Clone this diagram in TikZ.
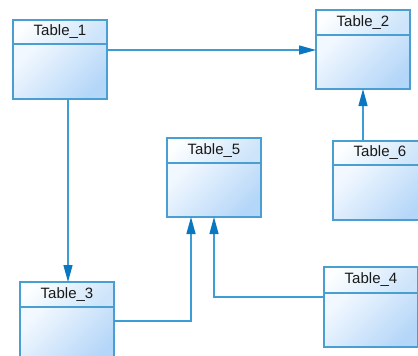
\documentclass[tikz,border=0pt]{standalone}
\usepackage{fontspec}
\setmainfont{Liberation Sans}
\usetikzlibrary{arrows.meta,calc}
\definecolor{bordc}{HTML}{4A9FD2}
\definecolor{linec}{HTML}{3C9DD6}
\definecolor{arrc}{HTML}{0A78C0}
\definecolor{bodyl}{HTML}{F2F8FF}
\definecolor{bodyd}{HTML}{B4D6F8}
\definecolor{headl}{HTML}{FCFEFF}
\definecolor{headd}{HTML}{CDE4FA}
\tikzset{
  hdr/.style={draw=bordc, line width=1.4bp, rectangle, inner sep=0pt, outer sep=0pt,
    minimum width=94bp, minimum height=25bp, anchor=north west,
    shading=axis, top color=headl, bottom color=headd, shading angle=45,
    font=\fontsize{15bp}{17bp}\selectfont, text=black!90},
  bdy/.style={draw=bordc, line width=1.4bp, rectangle, inner sep=0pt, outer sep=0pt,
    minimum width=94bp, minimum height=55bp, anchor=north,
    shading=axis, top color=bodyl, bottom color=bodyd, shading angle=45},
  conn/.style={draw=linec, line width=1.4bp,
    -{Triangle[length=17bp,width=9bp,fill=arrc,color=arrc]}},
}
\begin{document}
\begin{tikzpicture}[x=1bp,y=-1bp]
\useasboundingbox (0,0) rectangle (418,356);
\clip (0,0) rectangle (418,356);
% Table_1
\node[hdr, minimum height=24bp] (t1h) at (13,20) {Table\_1};
\node[bdy] (t1b) at (t1h.south) {};
% Table_2
\node[hdr] (t2h) at (316,10) {Table\_2};
\node[bdy, minimum height=54bp] (t2b) at (t2h.south) {};
% Table_5
\node[hdr] (t5h) at (167,138) {Table\_5};
\node[bdy, minimum height=54bp] (t5b) at (t5h.south) {};
% Table_6
\node[hdr, minimum height=24bp] (t6h) at (333,141) {Table\_6};
\node[bdy] (t6b) at (t6h.south) {};
% Table_3
\node[hdr] (t3h) at (20,282) {Table\_3};
\node[bdy] (t3b) at (t3h.south) {};
% Table_4
\node[hdr, minimum height=26bp] (t4h) at (324,267) {Table\_4};
\node[bdy, minimum height=54bp] (t4b) at (t4h.south) {};
% connector start points
\coordinate (c12) at ($(t1b.north east)+(0,6)$);
\coordinate (c13) at ($(t1b.south west)+(55,0)$);
\coordinate (c62) at ($(t6h.north west)+(30,0)$);
% connectors
\draw[conn] (c12) -- (t2b.west |- c12);
\draw[conn] (c13) -- (t3h.north -| c13);
\draw[conn] (c62) -- (t2b.south -| c62);
\draw[conn] ($(t3b.north east)+(0,14)$) -| ($(t5b.south west)+(24,0)$);
\draw[conn] ($(t4b.north west)+(0,4)$) -| ($(t5b.south west)+(47,0)$);
\end{tikzpicture}
\end{document}
